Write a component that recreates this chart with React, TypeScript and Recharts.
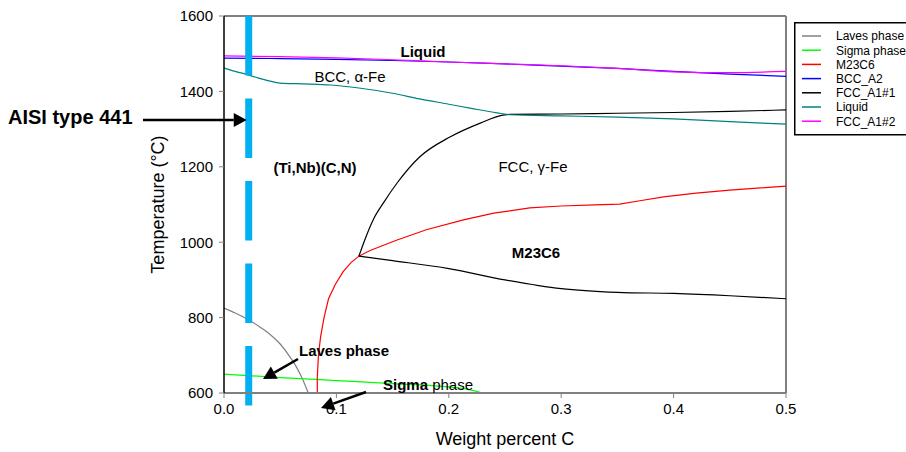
import { LineChart, Line, XAxis, YAxis, ReferenceLine } from "recharts";

// phase boundaries, [weight % C, temperature °C]
const lavesPhase = [
  [0, 825], [0.01, 812], [0.02, 797], [0.03, 779], [0.04, 758], [0.05, 730],
  [0.06, 690], [0.065, 666], [0.07, 636], [0.075, 600],
];
const sigmaPhase = [
  [0, 650], [0.05, 641], [0.1, 633], [0.15, 625], [0.2, 616], [0.215, 611], [0.23, 600],
];
const m23c6 = [
  [0.083, 600], [0.083, 640], [0.084, 700], [0.086, 750], [0.089, 800], [0.093, 850],
  [0.099, 888], [0.106, 922], [0.113, 946], [0.12, 963], [0.13, 978], [0.154, 1006],
  [0.18, 1033], [0.213, 1059], [0.24, 1077], [0.272, 1091], [0.3, 1096], [0.33, 1099],
  [0.352, 1101], [0.37, 1110], [0.391, 1120], [0.42, 1130], [0.45, 1138], [0.5, 1149],
];
const bccA2 = [
  [0, 1488], [0.05, 1487], [0.1, 1485], [0.15, 1482], [0.2, 1478], [0.25, 1473],
  [0.3, 1467], [0.35, 1461], [0.4, 1453], [0.45, 1446], [0.5, 1440],
];
// FCC_A1#1: two branches leaving the triple point at 0.12 % C
const fccA1Upper = [
  [0.12, 963], [0.126, 1012], [0.133, 1061], [0.142, 1105], [0.154, 1157],
  [0.174, 1226], [0.201, 1279], [0.228, 1316], [0.248, 1337], [0.255, 1339],
  [0.3, 1340], [0.35, 1342], [0.4, 1344], [0.45, 1347], [0.5, 1351],
];
const fccA1Lower = [
  [0.12, 963], [0.15, 951], [0.2, 930], [0.25, 900], [0.28, 885], [0.3, 877],
  [0.35, 867], [0.4, 864], [0.45, 858], [0.5, 850],
];
const liquid = [
  [0, 1462], [0.01, 1453], [0.02, 1445], [0.03, 1436], [0.04, 1428], [0.05, 1422],
  [0.07, 1420], [0.095, 1417], [0.12, 1409], [0.15, 1395], [0.174, 1380], [0.2, 1366],
  [0.22, 1355], [0.243, 1343], [0.255, 1338], [0.3, 1335], [0.35, 1332], [0.4, 1327],
  [0.45, 1320], [0.5, 1313],
];
const fccA1_2 = [
  [0, 1494], [0.05, 1492], [0.1, 1489], [0.15, 1484], [0.2, 1478], [0.25, 1473],
  [0.3, 1468], [0.35, 1461], [0.4, 1452], [0.43, 1450], [0.45, 1450], [0.5, 1453],
];

const xTicks = [0, 0.1, 0.2, 0.3, 0.4, 0.5];
const yTicks = [600, 800, 1000, 1200, 1400, 1600];
const alloyC = 0.022; // AISI 441 carbon content

const series = [
  { name: "Laves phase", parts: [lavesPhase], color: "#808080", curve: "monotone" },
  { name: "Sigma phase", parts: [sigmaPhase], color: "#00FF00", curve: "monotone" },
  { name: "M23C6", parts: [m23c6], color: "#FF0000", curve: "linear" }, // near-vertical start, keep linear
  { name: "BCC_A2", parts: [bccA2], color: "#0000FF", curve: "monotone" },
  { name: "FCC_A1#1", parts: [fccA1Upper, fccA1Lower], color: "#000000", curve: "monotone" },
  { name: "Liquid", parts: [liquid], color: "#008080", curve: "monotone" },
  { name: "FCC_A1#2", parts: [fccA1_2], color: "#FF00FF", curve: "monotone" },
];

const FONT = "'Liberation Sans', Arial, sans-serif";
const W = 906;
const H = 452;
const M = { top: 16, right: 120, left: 224, bottom: 59 };
// plot geometry, used only to place the annotations
const px = (x: number) => M.left + (x / 0.5) * (W - M.left - M.right);
const py = (t: number) => H - M.bottom - ((t - 600) / 1000) * (H - M.top - M.bottom);

const Arrow = ({ x1, y1, x2, y2 }: { x1: number; y1: number; x2: number; y2: number }) => {
  const dx = x2 - x1;
  const dy = y2 - y1;
  const len = Math.hypot(dx, dy);
  const ux = dx / len;
  const uy = dy / len;
  const hl = 13;
  const hw = 7;
  const bx = x2 - ux * hl;
  const by = y2 - uy * hl;
  const pts = `${x2},${y2} ${bx - uy * hw},${by + ux * hw} ${bx + uy * hw},${by - ux * hw}`;
  return (
    <g>
      <line x1={x1} y1={y1} x2={bx} y2={by} stroke="#000" strokeWidth={2.5} />
      <polygon points={pts} fill="#000" />
    </g>
  );
};

const App = () => {
  const midT = (py(600) + py(1600)) / 2;
  return (
    <div style={{ position: "absolute", left: 0, top: 0, width: W, height: H, background: "#fff", fontFamily: FONT }}>
      <LineChart width={W} height={H} margin={{ top: M.top, right: M.right, bottom: 0, left: 0 }}>
        <XAxis
          type="number"
          dataKey="x"
          domain={[0, 0.5]}
          ticks={xTicks}
          tickFormatter={(v: number) => v.toFixed(1)}
          height={M.bottom}
          tickSize={5}
          tickMargin={5}
          axisLine={{ stroke: "#808080", strokeWidth: 2 }}
          tickLine={{ stroke: "#808080" }}
          tick={{ fontSize: 15, fill: "#000", fontFamily: FONT }}
        />
        <YAxis
          type="number"
          dataKey="t"
          domain={[600, 1600]}
          ticks={yTicks}
          width={M.left}
          tickSize={5}
          tickMargin={6}
          axisLine={{ stroke: "#000", strokeWidth: 1.5 }}
          tickLine={{ stroke: "#808080" }}
          tick={{ fontSize: 15, fill: "#000", fontFamily: FONT }}
        />
        <ReferenceLine y={1600} stroke="#808080" strokeWidth={2} />
        <ReferenceLine x={0.5} stroke="#808080" strokeWidth={2} />
        {series.flatMap((s) =>
          s.parts.map((part, j) => (
            <Line
              key={`${s.name}-${j}`}
              name={s.name}
              data={part.map(([x, t]) => ({ x, t }))}
              dataKey="t"
              type={s.curve as "monotone" | "linear"}
              stroke={s.color}
              strokeWidth={1.2}
              dot={false}
              isAnimationActive={false}
            />
          ))
        )}
        <ReferenceLine
          segment={[{ x: alloyC, y: 1600 }, { x: alloyC, y: 566 }]}
          ifOverflow="visible"
          stroke="#00B0F0"
          strokeWidth={7}
          strokeDasharray="59.5 23"
        />
      </LineChart>

      <svg
        width={W}
        height={H}
        style={{ position: "absolute", left: 0, top: 0, pointerEvents: "none" }}
        fontFamily={FONT}
      >
        <text x={8} y={124} fontSize={20} fontWeight="bold">AISI type 441</text>
        <Arrow x1={143} y1={120} x2={px(alloyC) - 2} y2={120} />

        <text x={423} y={57} fontSize={15} fontWeight="bold" textAnchor="middle">Liquid</text>
        <text x={350} y={82} fontSize={15} textAnchor="middle">BCC, α-Fe</text>
        <text x={315} y={173} fontSize={15} fontWeight="bold" textAnchor="middle">(Ti,Nb)(C,N)</text>
        <text x={533} y={172} fontSize={15} textAnchor="middle">FCC, γ-Fe</text>
        <text x={536} y={258} fontSize={15} fontWeight="bold" textAnchor="middle">M23C6</text>

        <text x={299} y={356} fontSize={15} fontWeight="bold">Laves phase</text>
        <Arrow x1={298} y1={359} x2={263} y2={379} />
        <text x={383} y={390} fontSize={15}>
          <tspan fontWeight="bold">Sigma</tspan> phase
        </text>
        <Arrow x1={366} y1={392} x2={321} y2={408} />

        <text x={(px(0) + px(0.5)) / 2} y={445} fontSize={18} textAnchor="middle">Weight percent C</text>
        <text x={164} y={midT} fontSize={18} textAnchor="middle" transform={`rotate(-90 164 ${midT})`}>
          Temperature (°C)
        </text>

        {/* legend */}
        <rect x={794.75} y={22.75} width={130} height={112} fill="#fff" stroke="#000" strokeWidth={1.5} />
        {series.map((s, i) => {
          const y = 36 + i * 14.2;
          return (
            <g key={s.name}>
              <line x1={802} x2={821} y1={y} y2={y} stroke={s.color} strokeWidth={1.5} />
              <text x={836} y={y + 4.3} fontSize={12}>{s.name}</text>
            </g>
          );
        })}
      </svg>
    </div>
  );
};

export default App;
